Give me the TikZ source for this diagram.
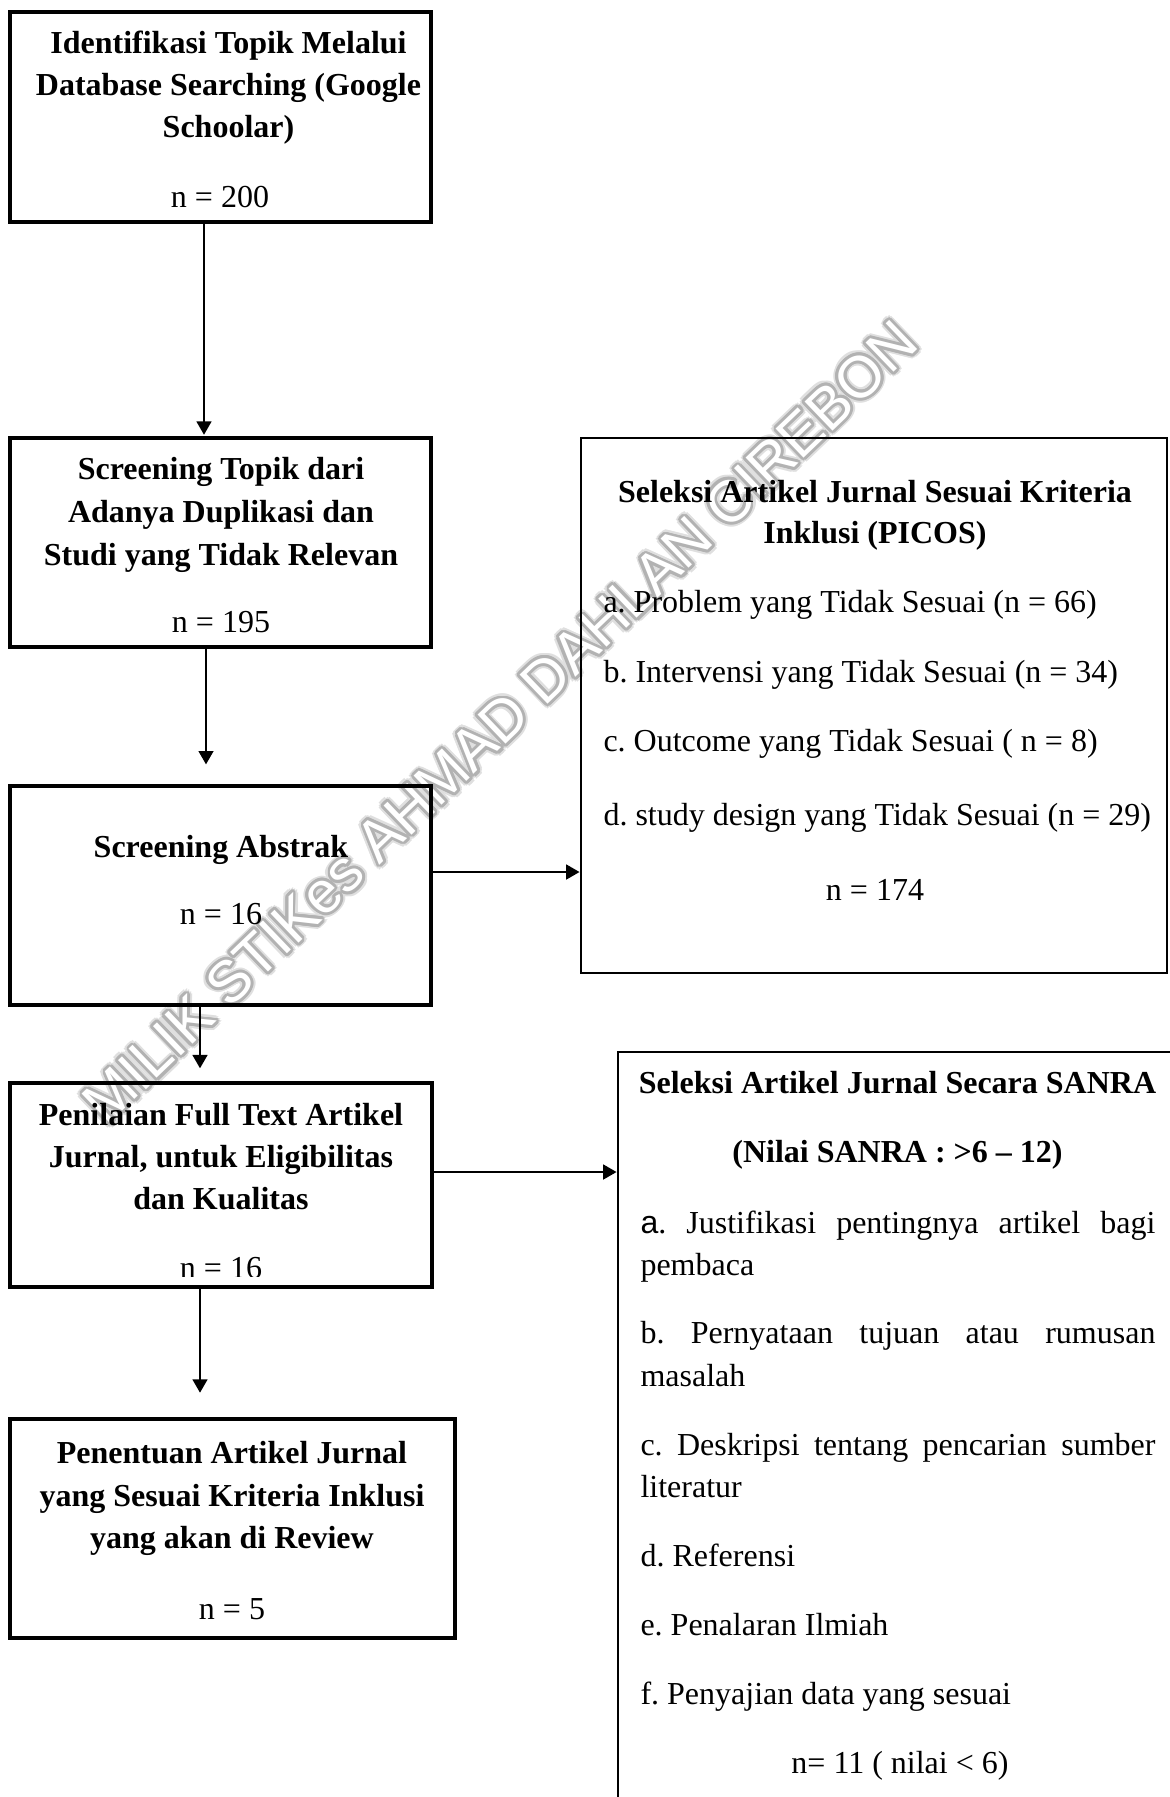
\documentclass[tikz,border=0pt]{standalone}
\usepackage{fontspec}
\setmainfont{Liberation Serif}
\newfontfamily\wmfont{Liberation Sans}
\usetikzlibrary{arrows.meta,fit,calc}
\begin{document}
\fontsize{12}{15}\selectfont\frenchspacing
\begin{tikzpicture}[x=0.375pt,y=-0.375pt,
  box/.style={draw, line width=1.25pt, inner sep=0pt},
  thickbox/.style={draw, line width=1.75pt, inner sep=0pt},
  arr/.style={line width=0.6pt, -{Triangle[length=5pt,width=5.6pt]}},
  tb/.style={anchor=base, inner sep=0pt, font=\bfseries},
  tn/.style={anchor=base, inner sep=0pt},
  tl/.style={anchor=base west, inner sep=0pt},
  wm/.style={rotate=43.8, inner sep=0pt, font=\wmfont\fontsize{22}{22}\selectfont}
]
\useasboundingbox (0,0) rectangle (1169,1797);
% watermark (outlined grey letters)
\foreach \a [count=\i] in {0,30,...,330}{
  \node[wm, text=gray!25] (wmh\i) at ($(500,722)+(\a:5)$) {MILIK STIKes AHMAD DAHLAN CIREBON};
}
\foreach \a [count=\i] in {0,22.5,...,337.5}{
  \node[wm, text=gray!60] (wmo\i) at ($(500,722)+(\a:2.8)$) {MILIK STIKes AHMAD DAHLAN CIREBON};
}
\node[wm, text=white] (wm) at (500,722) {MILIK STIKes AHMAD DAHLAN CIREBON};

% boxes
\node[box, fit={(10,12)(431,222)}] (b1) {};
\node[box, fit={(10,438)(431,647)}] (b2) {};
\node[box, fit={(10,786)(431,1005)}] (b3) {};
\node[box, fit={(10,1083)(432,1287)}] (b4) {};
\node[thickbox, fit={(10,1419)(455,1638)}] (b5) {};
\node[box, line width=1.1pt, fit={(581,438)(1167,973)}] (picos) {};
\node[box, line width=1.1pt, fit={(618,1052)(1185,1815)}] (sanra) {};

% connector x / y positions
\coordinate (ax1) at (204,0);
\coordinate (ax2) at (206,0);
\coordinate (ax3) at (200,0);
\coordinate (ay1) at (0,872);
\coordinate (ay2) at (0,1172);

\draw[arr, shorten >=0.6pt] (b1.south -| ax1) -- (b2.north -| ax1);
\draw[arr, shorten >=7.5pt] (b2.south -| ax2) -- (b3.north -| ax2);
\draw[arr, shorten >=4.9pt] (b3.south -| ax3) -- (b4.north -| ax3);
\draw[arr, shorten >=9pt] (b4.south -| ax3) -- (b5.north -| ax3);
\draw[arr] (b3.east |- ay1) -- (picos.west |- ay1);
\draw[arr] (b4.east |- ay2) -- (sanra.west |- ay2);

% box 1
\node[tb] (t1a) at (228.5,53) {Identifikasi Topik Melalui};
\node[tb] (t1b) at (228.5,95) {Database Searching (Google};
\node[tb] (t1c) at (228.5,137) {Schoolar)};
\node[tn] (t1n) at (220,207) {n = 200};
% box 2
\node[tb] (t2a) at (221,479) {Screening Topik dari};
\node[tb] (t2b) at (221,522) {Adanya Duplikasi dan};
\node[tb] (t2c) at (221,565) {Studi yang Tidak Relevan};
\node[tn] (t2n) at (221,632) {n = 195};
% box 3
\node[tb] (t3a) at (221,857) {Screening Abstrak};
\node[tn] (t3n) at (221,924) {n = 16};
% box 4
\node[tb] (t4a) at (221,1125) {Penilaian Full Text Artikel};
\node[tb] (t4b) at (221,1167) {Jurnal, untuk Eligibilitas};
\node[tb] (t4c) at (221,1209) {dan Kualitas};
\begin{scope}
\clip (0,1000) rectangle (1169,1276);
\node[tn] (t4n) at (221,1278) {n = 16};
\end{scope}
% box 5
\node[tb] (t5a) at (232,1463) {Penentuan Artikel Jurnal};
\node[tb] (t5b) at (232,1506) {yang Sesuai Kriteria Inklusi};
\node[tb] (t5c) at (232,1548) {yang akan di Review};
\node[tn] (t5n) at (232,1619) {n = 5};
% PICOS
\node[tb] (p1) at (875,502) {Seleksi Artikel Jurnal Sesuai Kriteria};
\node[tb] (p2) at (875,543) {Inklusi (PICOS)};
\node[tl] (pa) at (603,612) {a. Problem yang Tidak Sesuai (n = 66)};
\node[tl] (pb) at (603,682) {b. Intervensi yang Tidak Sesuai (n = 34)};
\node[tl] (pc) at (603,751) {c. Outcome yang Tidak Sesuai ( n = 8)};
\node[tl] (pd) at (603,825) {d. study design yang Tidak Sesuai (n = 29)};
\node[tn] (pn) at (875,900) {n = 174};
% SANRA
\node[tb] (s1) at (897.5,1093) {Seleksi Artikel Jurnal Secara SANRA};
\node[tb] (s2) at (897.5,1162) {(Nilai SANRA : >6 – 12)};
\node[tl] (sa1) at (640,1233) {\makebox[193.1pt][s]{{\wmfont a}. Justifikasi pentingnya artikel bagi}};
\node[tl] (sa2) at (640,1275) {pembaca};
\node[tl] (sb1) at (640,1343) {\makebox[193.1pt][s]{b. Pernyataan tujuan atau rumusan}};
\node[tl] (sb2) at (640,1386) {masalah};
\node[tl] (sc1) at (640,1455) {\makebox[193.1pt][s]{c. Deskripsi tentang pencarian sumber}};
\node[tl] (sc2) at (640,1497) {literatur};
\node[tl] (sd) at (640,1566) {d. Referensi};
\node[tl] (se) at (640,1635) {e. Penalaran Ilmiah};
\node[tl] (sf) at (640,1704) {f. Penyajian data yang sesuai};
\node[tn] (sn) at (900,1773) {n= 11 ( nilai < 6)};
\end{tikzpicture}
\end{document}
